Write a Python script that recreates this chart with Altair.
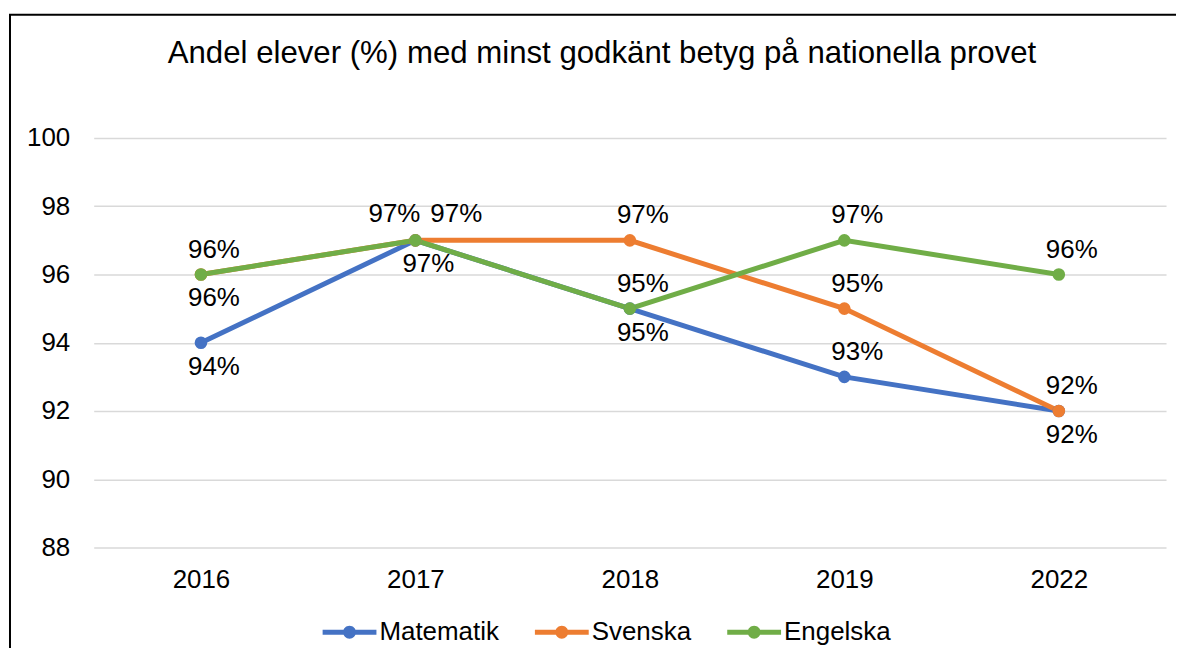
import altair as alt
import pandas as pd

# ---- data ----
years = ["2016", "2017", "2018", "2019", "2022"]
matematik = [94, 97, 95, 93, 92]
svenska = [96, 97, 97, 95, 92]
engelska = [96, 97, 95, 97, 96]
subjects = ["Matematik", "Svenska", "Engelska"]
colors = ["#4472C4", "#ED7D31", "#70AD47"]
y_ticks = [88, 90, 92, 94, 96, 98, 100]
title_text = "Andel elever (%) med minst godkänt betyg på nationella provet"

# data-label placement (Excel style: above / below)
placement = {
    "Matematik": ["below", "below", "below", "above", "below"],
    "Svenska": ["below", "above-right", "above", "above", "above"],
    "Engelska": ["above", "above-left", "above", "above", "above"],
}

series = {"Matematik": matematik, "Svenska": svenska, "Engelska": engelska}
rows = []
for s in subjects:
    for i, y in enumerate(years):
        rows.append({"subject": s, "year": y, "value": series[s][i],
                     "pos": placement[s][i], "label": f"{series[s][i]}%"})
df = pd.DataFrame(rows)

FONT = "Liberation Sans"

x_enc = alt.X("year:N", sort=years,
              scale=alt.Scale(type="point", padding=0.5),
              axis=alt.Axis(title=None, labelFontSize=26, labelFont=FONT,
                            labelColor="#000000", domain=False, ticks=False,
                            grid=False, labelPadding=19, labelAngle=0))
y_enc = alt.Y("value:Q",
              scale=alt.Scale(domain=[88, 100], nice=False, zero=False),
              axis=alt.Axis(title=None, values=y_ticks, labelFontSize=26,
                            labelFont=FONT, labelColor="#000000", domain=False,
                            ticks=False, gridColor="#d9d9d9", gridWidth=1.5,
                            labelPadding=24))
color_scale = alt.Scale(domain=subjects, range=colors)

sym_path = ("M-1,-0.09H1V0.09H-1Z "
            "M0.24,0A0.24,0.24 0 1,1 -0.24,0A0.24,0.24 0 1,1 0.24,0Z")
legend = alt.Legend(title=None, orient="none", legendX=229.7, legendY=469,
                    direction="horizontal", symbolType=sym_path,
                    symbolSize=2916, symbolStrokeWidth=0, labelFontSize=26,
                    labelFont=FONT, labelColor="#000000", columnPadding=36,
                    labelOffset=3)

base = alt.Chart(df)

border = alt.Chart(pd.DataFrame({"a": [0]})).mark_rect(
    fill="transparent", stroke="#000000", strokeWidth=2
).encode(x=alt.value(-84), x2=alt.value(1110),
         y=alt.value(-123.5), y2=alt.value(620))

lines = base.mark_line(strokeWidth=5).encode(
    x=x_enc, y=y_enc,
    color=alt.Color("subject:N", scale=color_scale, legend=legend),
)

points = base.mark_circle(size=160, opacity=1).encode(
    x=x_enc, y=y_enc,
    color=alt.Color("subject:N", scale=color_scale, legend=legend),
)

offsets = {"above": (13, -25), "below": (13, 24),
           "above-left": (-21, -26), "above-right": (41, -26)}
texts = []
for p, (dx, dy) in offsets.items():
    texts.append(
        base.transform_filter(alt.datum.pos == p).mark_text(
            dx=dx, dy=dy, fontSize=26, font=FONT, color="#000000",
            baseline="middle", align="center"
        ).encode(x=x_enc, y=y_enc, text="label:N")
    )

chart = alt.layer(border, lines, points, *texts).properties(
    width=1076, height=411,
    title=alt.Title(title_text, fontSize=31.3, font=FONT, fontWeight="normal",
                    color="#000000", anchor="middle", frame="group",
                    orient="top", offset=0, baseline="alphabetic",
                    dx=-28, dy=80.5),
    padding={"left": 86, "top": 129.3, "right": 10, "bottom": 100},
    autosize=alt.AutoSizeParams(type="none"),
).configure_view(stroke=None)

chart.save("out.html", embed_options={"renderer": "svg", "actions": False})
